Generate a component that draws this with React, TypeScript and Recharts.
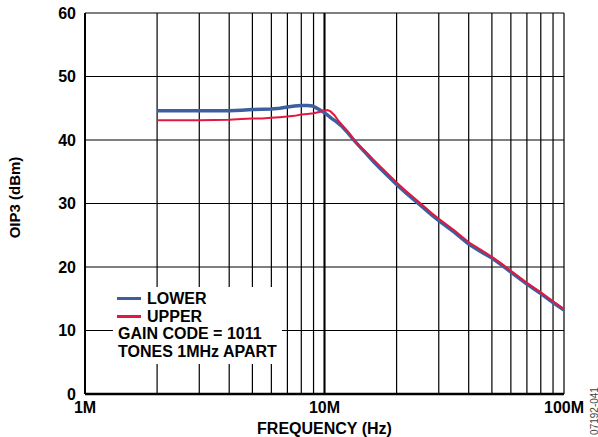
import React from 'react'
import { LineChart, Line, XAxis, YAxis, CartesianGrid, ReferenceLine, Legend, Label } from 'recharts'

// frequency in MHz, OIP3 in dBm
const lowerFreq = [2, 3, 4, 4.5, 5, 5.5, 6, 6.5, 7, 7.5, 8, 8.5, 8.9, 9.2, 9.5, 9.9, 10.3, 10.7, 11.2, 11.8, 12.4, 13.1, 14, 15, 16, 17, 18, 20, 22, 25, 28, 30, 35, 40, 45, 50, 55, 60, 70, 80, 90, 100]
const lowerOip3 = [44.6, 44.6, 44.6, 44.7, 44.8, 44.85, 44.9, 45.0, 45.2, 45.35, 45.45, 45.45, 45.35, 45.1, 44.8, 44.4, 43.9, 43.4, 42.9, 42.2, 41.3, 40.2, 39.0, 37.8, 36.6, 35.6, 34.7, 33.0, 31.6, 29.8, 28.2, 27.3, 25.4, 23.6, 22.4, 21.4, 20.3, 19.2, 17.3, 15.8, 14.4, 13.2]

const upperFreq = [2, 3, 4, 4.5, 5, 5.5, 6, 6.5, 7, 7.5, 8, 8.5, 9, 9.5, 10, 10.3, 10.6, 11, 11.4, 12, 12.6, 13.6, 14.5, 15, 16, 17, 18, 20, 22, 25, 28, 30, 35, 40, 45, 50, 55, 60, 70, 80, 90, 100]
const upperOip3 = [43.1, 43.1, 43.2, 43.3, 43.4, 43.4, 43.5, 43.6, 43.7, 43.8, 44.0, 44.1, 44.2, 44.4, 44.6, 44.7, 44.5, 43.9, 43.1, 42.1, 41.2, 39.5, 38.5, 38.0, 36.9, 35.9, 35.0, 33.3, 31.9, 30.1, 28.5, 27.6, 25.7, 23.9, 22.7, 21.6, 20.5, 19.4, 17.5, 16.0, 14.6, 13.4]

const xGrid = [1, 2, 3, 4, 5, 6, 7, 8, 9, 10, 20, 30, 40, 50, 60, 70, 80, 90, 100]
const xLabelled = [1, 10, 100]
const yTicks = [0, 10, 20, 30, 40, 50, 60]
const notes = ['GAIN CODE = 1011', 'TONES 1MHz APART']

const lower = lowerFreq.map((f, i) => ({ f, v: lowerOip3[i] }))
const upper = upperFreq.map((f, i) => ({ f, v: upperOip3[i] }))

const FONT = '"Liberation Sans", Arial, sans-serif'
const tickStyle = { fontFamily: FONT, fontSize: 16, fontWeight: 700, fill: '#000' }

const LegendBox = ({ payload }: any) => (
  <div
    style={{
      background: '#fff',
      width: 169,
      height: 77,
      boxSizing: 'border-box',
      padding: '3px 0 0 4px',
      fontFamily: FONT,
      fontWeight: 700,
      fontSize: 16,
      lineHeight: '17.7px',
      color: '#000',
    }}
  >
    {(payload || []).map((p: any) => (
      <div key={p.value} style={{ display: 'flex', alignItems: 'center' }}>
        <div style={{ width: 24, height: 3, background: p.color, marginRight: 6 }} />
        <span>{p.value}</span>
      </div>
    ))}
    {notes.map((n) => (
      <div key={n} style={{ paddingLeft: 1 }}>{n}</div>
    ))}
  </div>
)

export default function App() {
  return (
    <div style={{ position: 'absolute', left: 0, top: 0, width: 598, height: 437, background: '#fff' }}>
      <LineChart width={598} height={437} margin={{ top: 13, right: 34, bottom: 0, left: 0 }}>
        <CartesianGrid stroke="#000" strokeWidth={1.2} />
        <XAxis
          dataKey="f"
          type="number"
          scale="log"
          domain={[1, 100]}
          ticks={xGrid}
          interval={0}
          allowDataOverflow
          tickFormatter={(v: number) => (xLabelled.includes(v) ? `${v}M` : '')}
          tick={tickStyle}
          tickSize={0}
          tickMargin={8}
          height={43}
          axisLine={{ stroke: '#000', strokeWidth: 2.5 }}
        >
          <Label
            content={({ viewBox }: any) => (
              <text
                x={viewBox.x + viewBox.width / 2}
                y={434}
                textAnchor="middle"
                style={{ fontFamily: FONT, fontSize: 16, fontWeight: 700 }}
              >
                FREQUENCY (Hz)
              </text>
            )}
          />
        </XAxis>
        <YAxis
          type="number"
          domain={[0, 60]}
          ticks={yTicks}
          interval={0}
          tick={tickStyle}
          tickSize={0}
          tickMargin={9}
          width={85}
          axisLine={{ stroke: '#000', strokeWidth: 2 }}
        >
          <Label
            content={({ viewBox }: any) => {
              const cy = viewBox.y + viewBox.height / 2 - 6
              return (
                <text
                  x={14}
                  y={cy}
                  transform={`rotate(-90, 14, ${cy})`}
                  textAnchor="middle"
                  dominantBaseline="central"
                  style={{ fontFamily: FONT, fontSize: 15, fontWeight: 700 }}
                >
                  OIP3 (dBm)
                </text>
              )
            }}
          />
        </YAxis>
        <ReferenceLine x={10} stroke="#000" strokeWidth={2} />
        <Legend
          layout="horizontal"
          verticalAlign="middle"
          align="center"
          content={<LegendBox />}
          wrapperStyle={{ left: 113, top: 287, width: 169, height: 77 }}
        />
        <Line
          data={lower}
          dataKey="v"
          name="LOWER"
          stroke="#3c5fa0"
          strokeWidth={3.5}
          dot={false}
          isAnimationActive={false}
        />
        <Line
          data={upper}
          dataKey="v"
          name="UPPER"
          stroke="#e4173e"
          strokeWidth={2}
          dot={false}
          isAnimationActive={false}
        />
      </LineChart>
      <svg width={20} height={70} style={{ position: 'absolute', left: 584, top: 376 }}>
        <text
          x={10}
          y={35}
          transform="rotate(-90, 10, 35)"
          textAnchor="middle"
          dominantBaseline="central"
          style={{ fontFamily: FONT, fontSize: 10, fill: '#444' }}
        >
          07192-041
        </text>
      </svg>
    </div>
  )
}
